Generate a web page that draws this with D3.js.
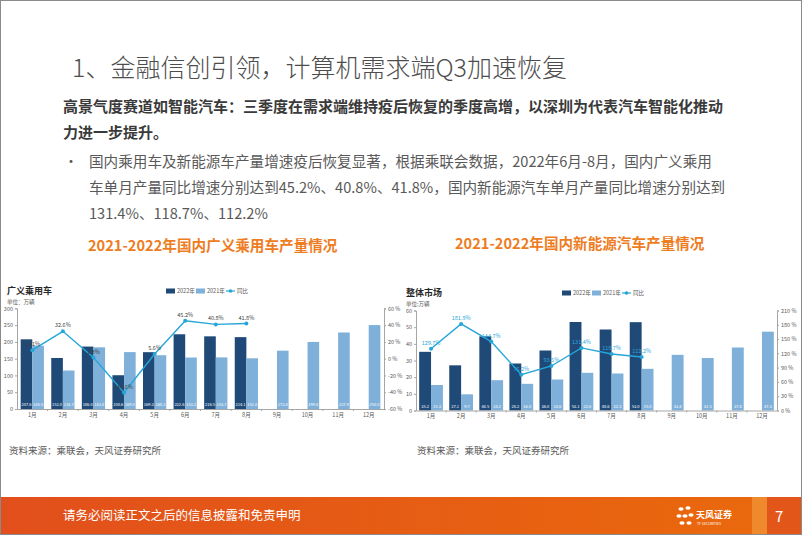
<!DOCTYPE html>
<html><head><meta charset="utf-8">
<script src="https://cdn.jsdelivr.net/npm/d3@7"></script>
<style>body{margin:0;background:#fff}svg{display:block}text{font-family:"Noto Sans CJK SC","Noto Sans",sans-serif}</style>
</head><body>
<svg id="c" width="802" height="535"></svg>
<script>
const months = ["1月","2月","3月","4月","5月","6月","7月","8月","9月","10月","11月","12月"];
const seriesNames = ["2022年","2021年","同比"];
// Left chart: 广义乘用车 (万辆)
const pv2022 = [207.6,152.0,186.0,100.6,169.3,222.6,216.5,214.1];
const pv2021 = [188.5,114.7,183.8,169.5,160.2,153.3,153.7,151.0,173.8,199.8,227.9,250.0];
const pvYoY  = [10.1,32.6,1.3,-40.6,5.6,45.2,40.8,41.8];
const pvLeftTicks = [0,50,100,150,200,250,300];
const pvRightTicks = [-60,-40,-20,0,20,40,60];
// Right chart: 新能源 整体市场 (万辆)
const nev2022 = [35.2,27.1,44.5,28.2,36.0,53.1,48.6,53.0];
const nev2021 = [15.3,9.7,18.2,16.0,18.6,22.6,22.2,25.0,33.4,31.5,37.8,47.3];
const nevYoY  = [129.7,181.9,144.7,75.2,93.5,131.4,118.7,112.2];
const nevLeftTicks = [0,10,20,30,40,50,60];
const nevRightTicks = [0,30,60,90,120,150,180,210];

const C_DARK = "#1f4a78", C_LIGHT = "#7fb0d9", C_LINE = "#25a6d9", C_AX = "#a6a6a6", C_TXT = "#595959";
const svg = d3.select("#c");

// slide frame
svg.append("rect").attr("x",0.5).attr("y",0.5).attr("width",801).attr("height",534).attr("fill","#fff").attr("stroke","#8a8a8a");

// heading
svg.append("text").attr("x",72).attr("y",77).attr("font-size",25).attr("font-weight",300).attr("fill","#4d4d4d")
  .text("1、金融信创引领，计算机需求端Q3加速恢复");
svg.append("text").attr("x",63).attr("y",112).attr("font-size",15).attr("font-weight",700).attr("fill","#3a3a3a")
  .text("高景气度赛道如智能汽车：三季度在需求端维持疫后恢复的季度高增，以深圳为代表汽车智能化推动");
svg.append("text").attr("x",63).attr("y",138).attr("font-size",15).attr("font-weight",700).attr("fill","#3a3a3a")
  .text("力进一步提升。");
svg.append("text").attr("x",64).attr("y",166).attr("font-size",14).attr("fill",C_TXT).text("•");
const para = ["国内乘用车及新能源车产量增速疫后恢复显著，根据乘联会数据，2022年6月-8月，国内广义乘用",
  "车单月产量同比增速分别达到45.2%、40.8%、41.8%，国内新能源汽车单月产量同比增速分别达到",
  "131.4%、118.7%、112.2%"];
para.forEach((t,i)=>svg.append("text").attr("x",89).attr("y",167+i*26).attr("font-size",14.6).attr("fill",C_TXT).text(t));

svg.append("text").attr("x",88).attr("y",251).attr("font-size",14.6).attr("font-weight",700).attr("fill","#ee7d1f").text("2021-2022年国内广义乘用车产量情况");
svg.append("text").attr("x",455).attr("y",249).attr("font-size",14.6).attr("font-weight",700).attr("fill","#ee7d1f").text("2021-2022年国内新能源汽车产量情况");

function chart(o){
  const g = svg.append("g");
  const x0 = d3.scaleBand().domain(months).range([o.x0,o.x1]).paddingInner(o.pi).paddingOuter(o.po);
  const x1 = d3.scaleBand().domain(["2022","2021"]).range([0,x0.bandwidth()]);
  const yL = d3.scaleLinear().domain(o.ld).range([o.yb,o.yt]);
  const yR = d3.scaleLinear().domain(o.rd).range([o.yb,o.yt]);
  // title
  g.append("text").attr("x",o.tx).attr("y",o.ty).attr("font-size",9).attr("font-weight",700).attr("fill","#262626").text(o.title);
  g.append("text").attr("x",o.tx).attr("y",o.ty+10).attr("font-size",5.5).attr("fill",C_TXT).text(o.unit);
  // legend
  const lg = g.append("g").attr("transform",`translate(${o.lx},${o.ty-3})`);
  lg.append("rect").attr("x",0).attr("y",-2.5).attr("width",9).attr("height",5).attr("fill",C_DARK);
  lg.append("text").attr("x",11).attr("y",2).attr("font-size",5.5).attr("fill",C_TXT).text(seriesNames[0]);
  lg.append("rect").attr("x",30).attr("y",-2.5).attr("width",9).attr("height",5).attr("fill",C_LIGHT);
  lg.append("text").attr("x",41).attr("y",2).attr("font-size",5.5).attr("fill",C_TXT).text(seriesNames[1]);
  lg.append("line").attr("x1",60).attr("x2",69).attr("y1",0).attr("y2",0).attr("stroke",C_LINE).attr("stroke-width",1.2);
  lg.append("circle").attr("cx",64.5).attr("cy",0).attr("r",1.8).attr("fill",C_LINE);
  lg.append("text").attr("x",71).attr("y",2).attr("font-size",5.5).attr("fill",C_TXT).text(seriesNames[2]);
  // bars
  const bw = x1.bandwidth();
  o.a.forEach((v,i)=>{
    const x = x0(months[i])+x1("2022");
    g.append("rect").attr("x",x).attr("y",yL(v)).attr("width",bw).attr("height",yL(o.ld[0])-yL(v)).attr("fill",C_DARK);
    g.append("text").attr("x",x+bw/2).attr("y",o.yb-3).attr("text-anchor","middle").attr("font-size",4).attr("fill","#fff").text(v.toFixed(1));
  });
  o.b.forEach((v,i)=>{
    const x = x0(months[i])+x1("2021");
    g.append("rect").attr("x",x).attr("y",yL(v)).attr("width",bw).attr("height",yL(o.ld[0])-yL(v)).attr("fill",C_LIGHT);
    g.append("text").attr("x",x+bw/2).attr("y",o.yb-3).attr("text-anchor","middle").attr("font-size",4).attr("fill","#fff").text(v.toFixed(1));
  });
  // axes
  const axL = g.append("g").attr("transform",`translate(${o.x0},0)`).call(d3.axisLeft(yL).tickValues(o.lt).tickSize(2).tickPadding(2));
  const axR = g.append("g").attr("transform",`translate(${o.x1},0)`).call(d3.axisRight(yR).tickValues(o.rt).tickSize(2).tickPadding(2).tickFormat(d=>d+" %"));
  const axB = g.append("g").attr("transform",`translate(0,${o.yb})`).call(d3.axisBottom(x0).tickSize(0).tickPadding(4));
  [axL,axR,axB].forEach(a=>{a.selectAll("path,line").attr("stroke",C_AX);a.selectAll("text").attr("font-size",5.5).attr("fill",C_TXT).attr("font-family",'"Noto Sans CJK SC",sans-serif');});
  // category separators
  months.forEach((m,i)=>{ if(i>0){const xx=x0(m)-x0.step()*x0.paddingInner()/2;
    g.append("line").attr("x1",xx).attr("x2",xx).attr("y1",o.yb).attr("y2",o.yb+2).attr("stroke",C_AX);} });
  // line
  const pts = o.c.map((v,i)=>[x0(months[i])+x0.bandwidth()/2, yR(v)]);
  g.append("path").attr("d",d3.line()(pts)).attr("fill","none").attr("stroke",C_LINE).attr("stroke-width",1.4);
  pts.forEach((p,i)=>{
    g.append("circle").attr("cx",p[0]).attr("cy",p[1]).attr("r",2).attr("fill",C_LINE);
    g.append("text").attr("x",p[0]).attr("y",p[1]-4).attr("text-anchor","middle").attr("font-size",5.5).attr("fill",o.lc).text(o.c[i].toFixed(1)+"%");
  });
}

chart({x0:17,x1:384,pi:0.24,po:0.12,yb:409,yt:308.3,ld:[0,300],rd:[-60,60],lt:pvLeftTicks,rt:pvRightTicks,
  a:pv2022,b:pv2021,c:pvYoY,title:"广义乘用车",unit:"单位：万辆",tx:7,ty:294,lx:166,lc:"#404040"});
chart({x0:416,x1:777,pi:0.21,po:0.105,yb:410.5,yt:310.5,ld:[0,60],rd:[0,210],lt:nevLeftTicks,rt:nevRightTicks,
  a:nev2022,b:nev2021,c:nevYoY,title:"整体市场",unit:"单位:万辆",tx:406,ty:296,lx:562,lc:"#2aa6d9"});

svg.append("text").attr("x",9).attr("y",454).attr("font-size",9.5).attr("fill",C_TXT).text("资料来源：乘联会，天风证券研究所");
svg.append("text").attr("x",417).attr("y",454).attr("font-size",9.5).attr("fill",C_TXT).text("资料来源：乘联会，天风证券研究所");

// footer
const defs = svg.append("defs");
const gr = defs.append("linearGradient").attr("id","fg");
gr.append("stop").attr("offset","0%").attr("stop-color","#e24f1c");
gr.append("stop").attr("offset","100%").attr("stop-color","#ea6a0c");
svg.append("rect").attr("x",1).attr("y",497).attr("width",800).attr("height",37).attr("fill","url(#fg)");
svg.append("rect").attr("x",752).attr("y",497).attr("width",15).attr("height",37).attr("fill","#ef8a2c");
svg.append("rect").attr("x",767).attr("y",497).attr("width",34).attr("height",37).attr("fill","#e2561a");
svg.append("text").attr("x",63).attr("y",520).attr("font-size",12.5).attr("fill","#fff").text("请务必阅读正文之后的信息披露和免责申明");
svg.append("text").attr("x",775).attr("y",522).attr("font-size",15).attr("fill","#fff").text("7");
// logo
const logo = svg.append("g").attr("transform","translate(685,516)").attr("fill","#fff");
[[-4,-7],[3,-8],[-6,0],[6,-1],[-3,7],[4,7],[0,0]].forEach(p=>logo.append("ellipse").attr("cx",p[0]).attr("cy",p[1]).attr("rx",2.6).attr("ry",1.8));
svg.append("text").attr("x",696).attr("y",518).attr("font-size",9).attr("font-weight",700).attr("fill","#fff").text("天风证券");
svg.append("text").attr("x",697).attr("y",525).attr("font-size",3.5).attr("fill","#fff").text("TF SECURITIES");
</script>
</body></html>
